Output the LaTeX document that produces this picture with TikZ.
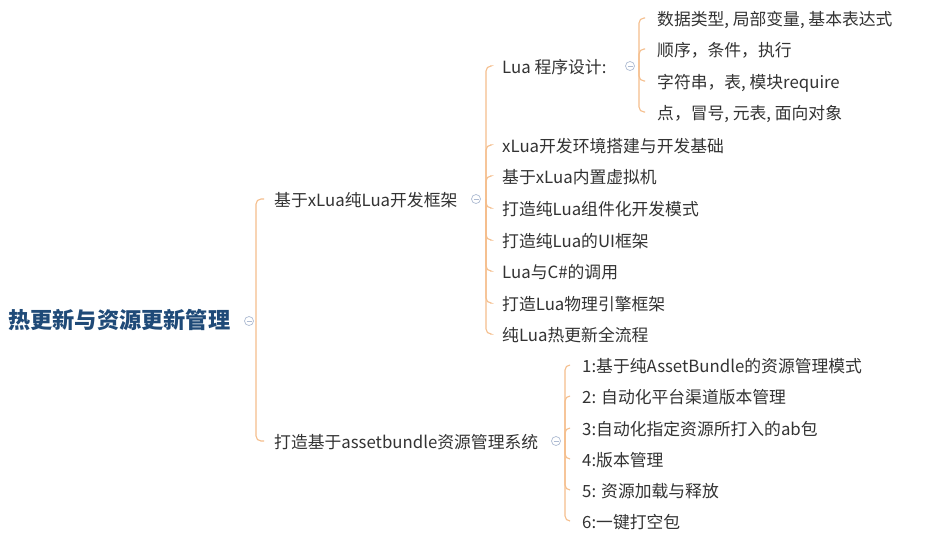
\documentclass[tikz,border=0pt]{standalone}
\usepackage{fontspec}
\setmainfont{Noto Sans CJK SC}
\definecolor{linec}{HTML}{F5BE8C}
\definecolor{txtc}{HTML}{333333}
\definecolor{rootc}{HTML}{1F4A78}
\definecolor{circc}{HTML}{AEBBD2}
\tikzset{
  item/.style={anchor=west,inner sep=0pt,yshift=-3.5pt,text height=0.88em,text depth=0.12em,font=\fontsize{16.8}{18}\selectfont,text=txtc},
  rootnode/.style={anchor=west,inner sep=0pt,yshift=-4pt,text height=0.88em,text depth=0.12em,font=\fontsize{22.2}{24}\bfseries\selectfont,text=rootc},
  fold/.style={circle,draw=circc,line width=0.7pt,minimum size=9pt,inner sep=0pt,
    path picture={\draw[circc,line width=0.7pt] ([xshift=-2.5pt]path picture bounding box.center) -- ([xshift=2.5pt]path picture bounding box.center);}},
  conn/.style={draw=linec,line width=1.1pt,rounded corners=5pt}
}
\begin{document}
\begin{tikzpicture}[x=1pt,y=-1pt]
\useasboundingbox[fill=white] (0,0) rectangle (936,539);
% root
\node[rootnode] (root) at (8,321) {热更新与资源更新管理};
\node[fold] (froot) at (249,321) {};
\coordinate (jroot) at (256,321);
% level 1
\node[item] (b1) at (274,199) {基于xLua纯Lua开发框架};
\node[fold] (fb1) at (476,199) {};
\coordinate (jb1) at (486,199);
\node[item] (b2) at (274,441) {打造基于assetbundle资源管理系统};
\node[fold] (fb2) at (556,441) {};
\coordinate (jb2) at (565,441);
% level 2 (branch 1)
\node[item] (c1) at (502,66) {Lua 程序设计:};
\node[fold] (fc1) at (630,66) {};
\coordinate (jc1) at (639,66);
\node[item] (c2) at (502,145) {xLua开发环境搭建与开发基础};
\node[item] (c3) at (502,176) {基于xLua内置虚拟机};
\node[item] (c4) at (502,208) {打造纯Lua组件化开发模式};
\node[item] (c5) at (502,240) {打造纯Lua的UI框架};
\node[item] (c6) at (502,271) {Lua与C\#的调用};
\node[item] (c7) at (502,303) {打造Lua物理引擎框架};
\node[item] (c8) at (502,334) {纯Lua热更新全流程};
% level 3 (Lua)
\node[item] (d1) at (657,18) {数据类型, 局部变量, 基本表达式};
\node[item] (d2) at (657,49) {顺序，条件，执行};
\node[item] (d3) at (657,81) {字符串，表, 模块require};
\node[item] (d4) at (657,112) {点，冒号, 元表, 面向对象};
% level 2 (branch 2)
\node[item] (e1) at (582,365) {1:基于纯AssetBundle的资源管理模式};
\node[item] (e2) at (582,396) {2: 自动化平台渠道版本管理};
\node[item] (e3) at (582,428) {3:自动化指定资源所打入的ab包};
\node[item] (e4) at (582,459) {4:版本管理};
\node[item] (e5) at (582,490) {5: 资源加载与释放};
\node[item] (e6) at (582,521) {6:一键打空包};
% connectors
\foreach \c in {b1,b2} \draw[conn] (jroot) |- ([xshift=-10pt,yshift=3.5pt]\c.west);
\foreach \c in {c1,c2,c3,c4,c5,c6,c7,c8} \draw[conn] (jb1) |- ([xshift=-12pt,yshift=3.5pt]\c.west);
\foreach \c in {d1,d2,d3,d4} \draw[conn] (jc1) |- ([xshift=-12pt,yshift=3.5pt]\c.west);
\foreach \c in {e1,e2,e3,e4,e5,e6} \draw[conn] (jb2) |- ([xshift=-12pt,yshift=3.5pt]\c.west);
\end{tikzpicture}
\end{document}
